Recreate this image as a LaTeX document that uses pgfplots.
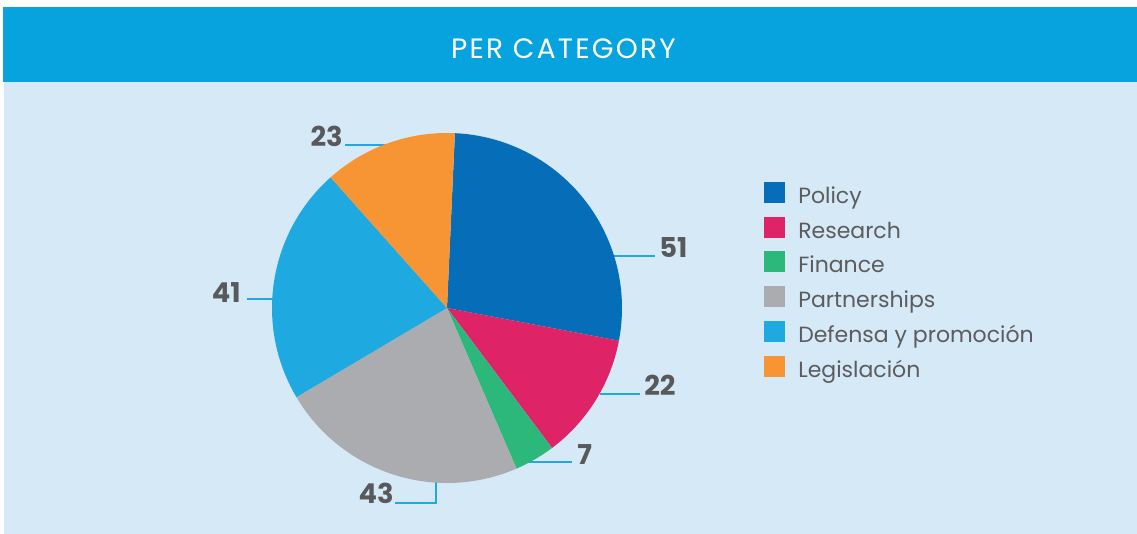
\documentclass[border=0pt]{standalone}
\usepackage{pgfplots}
\usepackage{pgfplotstable}
\pgfplotsset{compat=1.18}
\usepackage{fontspec}
\setmainfont{Poppins}
\setsansfont{Poppins}

\definecolor{banner}{RGB}{6,163,223}
\definecolor{bgblue}{RGB}{214,233,246}
\definecolor{cPolicy}{RGB}{6,110,184}
\definecolor{cResearch}{RGB}{222,36,103}
\definecolor{cFinance}{RGB}{44,184,123}
\definecolor{cPartner}{RGB}{171,172,176}
\definecolor{cDefensa}{RGB}{31,169,225}
\definecolor{cLegis}{RGB}{247,148,51}
\definecolor{leader}{RGB}{31,169,225}
\definecolor{labtext}{RGB}{88,89,91}
\definecolor{legtext}{RGB}{92,92,94}

\pgfplotstableread{
name value col
Policy 51 cPolicy
Research 22 cResearch
Finance 7 cFinance
Partnerships 43 cPartner
Defensa 41 cDefensa
Legislacion 23 cLegis
}\piedata

% total and cumulative angles from the data (clockwise from 87.4 deg)
\xdef\pietot{0}
\foreach \i in {0,...,5}{%
  \pgfplotstablegetelem{\i}{value}\of\piedata
  \pgfmathsetmacro\tmpt{\pietot+\pgfplotsretval}%
  \xdef\pietot{\tmpt}%
}
\xdef\piecur{87.4}
\foreach \i in {0,...,5}{%
  \pgfplotstablegetelem{\i}{value}\of\piedata
  \pgfmathsetmacro\tmpn{\piecur-\pgfplotsretval/\pietot*360}%
  \expandafter\xdef\csname pS\i\endcsname{\piecur}%
  \expandafter\xdef\csname pE\i\endcsname{\tmpn}%
  \pgfplotstablegetelem{\i}{col}\of\piedata
  \expandafter\xdef\csname pC\i\endcsname{\pgfplotsretval}%
  \xdef\piecur{\tmpn}%
}

\begin{document}
\begin{tikzpicture}
\begin{axis}[
  width=852.75pt, height=400.5pt, scale only axis,
  xmin=0, xmax=1137, ymin=0, ymax=534,
  hide axis, clip=false,
]
% backgrounds
\fill[white] (axis cs:0,0) rectangle (axis cs:1137,534);
\fill[bgblue] (axis cs:4,0) rectangle (axis cs:1137,452);
\fill[banner] (axis cs:3,452) rectangle (axis cs:1137,527);
\node[anchor=base, inner sep=0pt, text=white, font=\fontsize{21pt}{24pt}\selectfont\addfontfeature{LetterSpace=8}] at (axis cs:563.5,475) {PER CATEGORY};
% leader lines
\draw[leader, line width=1.5pt] (axis cs:600,278) -- (axis cs:655,278);
\draw[leader, line width=1.5pt] (axis cs:600,140.3) -- (axis cs:640,140.3);
\draw[leader, line width=1.5pt] (axis cs:520,72) -- (axis cs:572,72);
\draw[leader, line width=1.5pt] (axis cs:436,60) -- (axis cs:436,31) -- (axis cs:395,31);
\draw[leader, line width=1.5pt] (axis cs:247,235) -- (axis cs:290,235);
\draw[leader, line width=1.5pt] (axis cs:345,389.3) -- (axis cs:400,389.3);
% pie sectors
\pgfplotsinvokeforeach{0,...,5}{
  \fill[\csname pC#1\endcsname] (axis cs:447,226) -- ++(\csname pS#1\endcsname:131.25pt)
     arc[start angle=\csname pS#1\endcsname, end angle=\csname pE#1\endcsname, radius=131.25pt] -- cycle;
}
% value labels
\begin{scope}[every node/.style={inner sep=0pt, text=labtext, font=\fontsize{20.5pt}{23pt}\selectfont\bfseries}]
\node[anchor=base west] at (axis cs:659,276) {51};
\node[anchor=base west] at (axis cs:644,138) {22};
\node[anchor=base west] at (axis cs:577,69.7) {7};
\node[anchor=base east] at (axis cs:394,30) {43};
\node[anchor=base east] at (axis cs:241,231.3) {41};
\node[anchor=base east] at (axis cs:343,387) {23};
\end{scope}
% legend
\begin{scope}[every node/.style={inner sep=0pt, anchor=base west, text=legtext, font=\fontsize{16.5pt}{20pt}\selectfont}]
\fill[cPolicy]   (axis cs:764,331)   rectangle (axis cs:785,352);
\node at (axis cs:798,330.8) {Policy};
\fill[cResearch] (axis cs:764,296)   rectangle (axis cs:785,317);
\node at (axis cs:798,295.8) {Research};
\fill[cFinance]  (axis cs:764,261.5) rectangle (axis cs:785,282.5);
\node at (axis cs:798,261.3) {Finance};
\fill[cPartner]  (axis cs:764,226.5) rectangle (axis cs:785,247.5);
\node at (axis cs:798,226.3) {Partnerships};
\fill[cDefensa]  (axis cs:764,191.5) rectangle (axis cs:785,212.5);
\node at (axis cs:798,191.3) {Defensa y promoción};
\fill[cLegis]    (axis cs:764,156.5) rectangle (axis cs:785,177.5);
\node at (axis cs:798,156.3) {Legislación};
\end{scope}
\end{axis}
\end{tikzpicture}
\end{document}
